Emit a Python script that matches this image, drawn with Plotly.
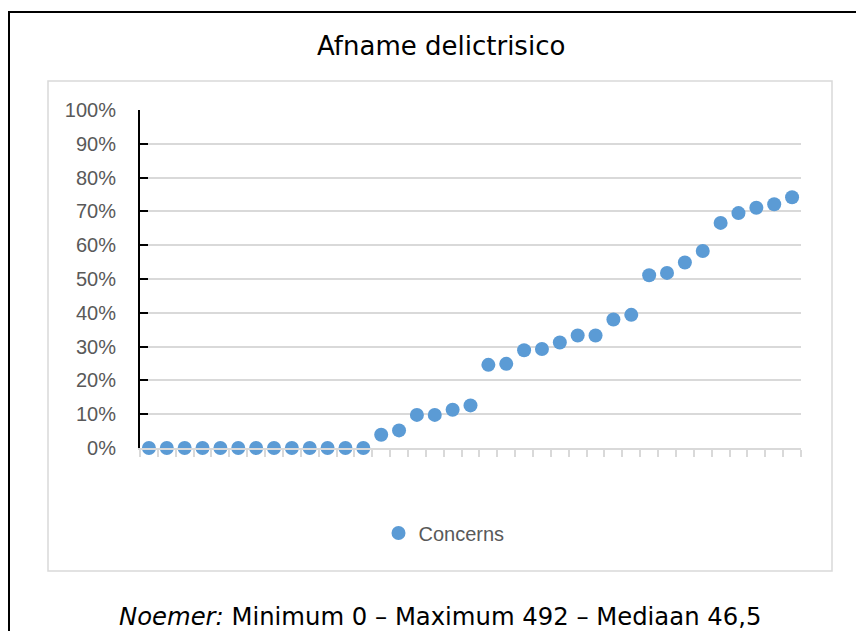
import plotly.graph_objects as go

# Data (share per respondent, sorted)
values = [0, 0, 0, 0, 0, 0, 0, 0, 0, 0, 0, 0, 0,
          3.9, 5.2, 9.8, 9.8, 11.3, 12.6, 24.6, 24.9, 28.9, 29.3, 31.2,
          33.3, 33.3, 38.0, 39.4, 51.1, 51.8, 54.9, 58.3, 66.6, 69.5,
          71.1, 72.1, 74.2]
categories = [str(i + 1) for i in range(len(values))]
series_name = "Concerns"
title_text = "Afname delictrisico"
footer_text = "<i>Noemer:</i> Minimum 0 \u2013 Maximum 492 \u2013 Mediaan 46,5"

W, H = 864, 631
OFF = 8  # page body margin offset (screen = figure + 8)
L, R, T, B = 140 - OFF, 801 - OFF, 110 - OFF, 448 - OFF  # plot area in figure pixels


def px(x):
    """screen x -> paper"""
    return (x - OFF - L) / (R - L)


def py(y):
    """screen y -> paper"""
    return (B - (y - OFF)) / (B - T)


fig = go.Figure()
fig.add_trace(go.Scatter(
    x=categories,
    y=[v / 100 for v in values],
    mode="markers",
    name=series_name,
    marker=dict(size=14, color="#5B9BD5", line=dict(width=0)),
    cliponaxis=False,
))

fig.update_layout(
    width=W, height=H,
    margin=dict(l=L, r=W - R, t=T, b=H - B, pad=0),
    paper_bgcolor="white",
    plot_bgcolor="white",
    showlegend=True,
    legend=dict(
        orientation="h",
        x=px(444), xanchor="center",
        y=py(533), yanchor="middle",
        font=dict(family="Liberation Sans, Arial, sans-serif", size=20, color="#595959"),
        bgcolor="rgba(0,0,0,0)",
    ),
    xaxis=dict(
        type="category",
        tickson="boundaries",
        showticklabels=False,
        showgrid=False,
        zeroline=False,
        showline=True,
        linecolor="#d9d9d9",
        linewidth=1.5,
        ticks="outside",
        ticklen=7,
        tickcolor="#d9d9d9",
        tickwidth=1.5,
        range=[-0.5, len(values) - 0.5],
    ),
    yaxis=dict(
        range=[0, 1],
        dtick=0.1,
        tick0=0,
        tickformat=".0%",
        showgrid=True,
        gridcolor="#d9d9d9",
        gridwidth=1.5,
        zeroline=False,
        showline=True,
        linecolor="black",
        linewidth=2,
        ticks="inside",
        ticklen=8,
        tickcolor="black",
        tickwidth=1.5,
        ticklabelstandoff=18,
        tickfont=dict(family="Liberation Sans, Arial, sans-serif", size=20, color="#595959"),
    ),
    shapes=[
        dict(type="rect", xref="paper", yref="paper",
             x0=px(48), x1=px(832), y0=py(571), y1=py(81),
             line=dict(color="#d9d9d9", width=1.5), fillcolor="rgba(0,0,0,0)",
             layer="below"),
        dict(type="rect", xref="paper", yref="paper",
             x0=px(9), x1=px(900), y0=py(700), y1=py(12),
             line=dict(color="black", width=2), fillcolor="rgba(0,0,0,0)",
             layer="above"),
    ],
    annotations=[
        dict(text=title_text, xref="paper", yref="paper",
             x=px(440.5), y=py(46), xanchor="center", yanchor="middle",
             showarrow=False,
             font=dict(family="DejaVu Sans, Verdana, sans-serif", size=26, color="black")),
        dict(text=footer_text, xref="paper", yref="paper",
             x=px(440), y=py(616), xanchor="center", yanchor="middle",
             showarrow=False,
             font=dict(family="DejaVu Sans, Verdana, sans-serif", size=24.3, color="black")),
    ],
)

fig.write_html("out.html")
